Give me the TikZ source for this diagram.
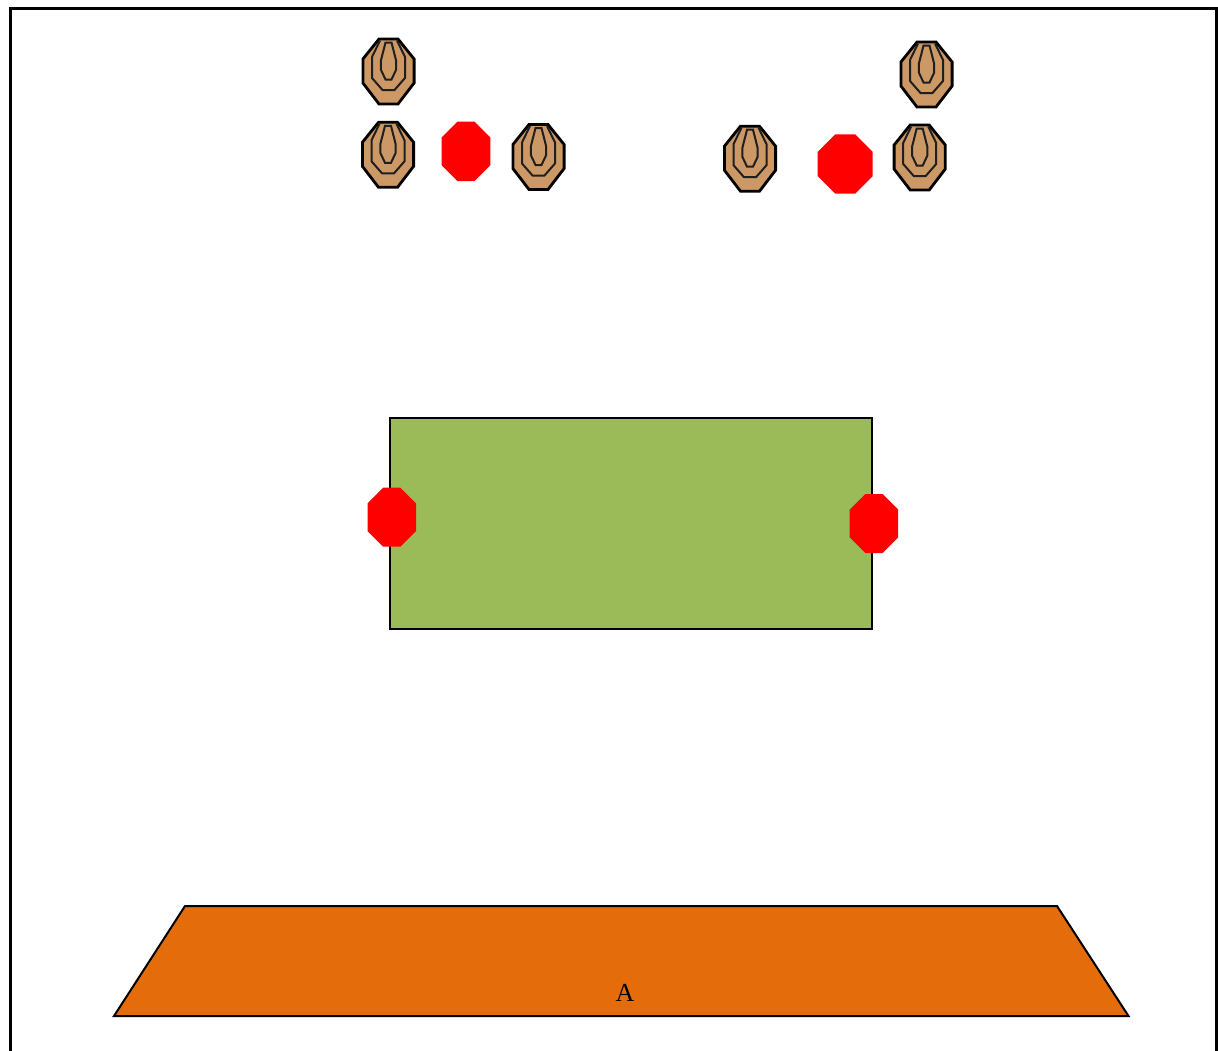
\documentclass[tikz,border=0pt]{standalone}
\usepackage{fontspec}
\setmainfont{Liberation Serif}
\definecolor{grass}{HTML}{9BBB59}
\definecolor{clay}{HTML}{E46C0A}
\definecolor{tan2}{HTML}{CC9966}
\tikzset{
  frameline/.style={draw=black,line width=3pt},
  block/.style={draw=black,line width=2pt,line join=miter},
  redoct/.style={fill=red,draw=none},
  ring/.style={draw=black!88,line width=2pt,line join=miter},
  rimline/.style={draw=black,line width=2.8pt,fill=tan2,line join=miter},
  pics/targetmark/.style={code={
    \path[rimline] (-9.5,-32.5)--(9.5,-32.5)--(25.6,-12.5)--(25.6,11.5)--(9.5,32.5)--(-9.5,32.5)--(-25.6,11.5)--(-25.6,-12.5)--cycle;
    \path[ring] (-8.5,-31)--(-16.5,-14.5)--(-16.5,6.5)--(-6,18.5)--(6,18.5)--(16.5,6.5)--(16.5,-14.5)--(8.5,-31);
    \path[ring] (-3,-29)--(3,-29)--(7.7,-10.5)--(7.7,-2)--(3,8)--(-3,8)--(-7.7,-2)--(-7.7,-10.5)--cycle;
  }}
}
\newcommand{\redshape}[5]{% left,right,top,bottom,cut
  \path[redoct] (#1+#5,#3)--(#2-#5,#3)--(#2,#3+#5)--(#2,#4-#5)--(#2-#5,#4)--(#1+#5,#4)--(#1,#4-#5)--(#1,#3+#5)--cycle;}
\begin{document}
\begin{tikzpicture}[x=1pt,y=-1pt]
\useasboundingbox (0,0) rectangle (1218,1050);
\fill[white] (0,0) rectangle (1218,1050);
% frame (open past the bottom edge)
\begin{scope}
\clip (0,0) rectangle (1218,1050);
\path[frameline] (10,1060)--(10,8.5)--(1216.5,8.5)--(1216.5,1060);
\end{scope}
% targets
\pic at (388.5,71.5) {targetmark};
\pic at (388,154.8) {targetmark};
\pic at (538.5,157) {targetmark};
\pic at (750,158.7) {targetmark};
\pic at (926.5,74.5) {targetmark};
\pic at (919.7,157.5) {targetmark};
% green block
\node[block,fill=grass,minimum width=482pt,minimum height=211pt,inner sep=0pt,outer sep=0pt] (field) at (631,523.7) {};
% red octagons
\redshape{441.7}{490.3}{121.7}{181}{15.7}
\redshape{817.7}{872.7}{134.3}{193.7}{17.5}
\redshape{367.5}{416}{487.7}{546.7}{15.7}
\redshape{849.7}{898.2}{494}{553}{15.7}
% trapezoid
\path[block,fill=clay] (185,906)--(1057,906)--(1128.5,1016)--(114,1016)--cycle;
\node[inner sep=0pt,font=\fontsize{26}{26}\selectfont] (label) at (625,993) {A};
\end{tikzpicture}
\end{document}
